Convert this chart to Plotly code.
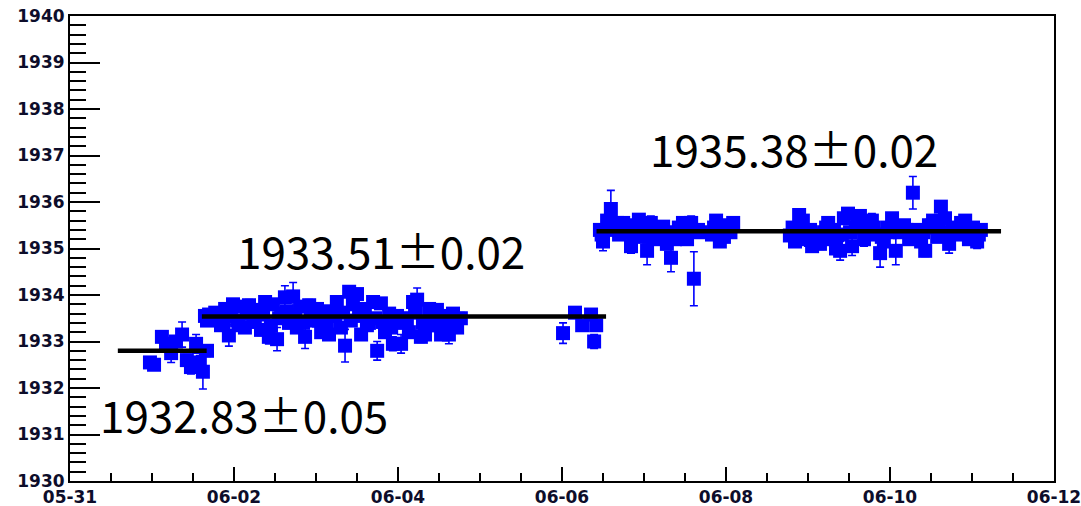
import pandas as pd
import plotly.graph_objects as go

# ---------------- data ----------------
# hours since 05-31 00:00, measured values, errors
hours = [
    # first period
    23.4, 24.6, 26.9, 28.1, 29.6, 31.0, 32.8, 34.2, 35.4, 36.9, 38.0, 38.9, 40.1,
    # second period
    39.5, 40.7, 41.9, 44.2, 45.4, 46.5, 47.7, 48.9, 50.0, 51.2, 52.4, 53.6, 54.7,
    55.9, 57.1, 58.2, 59.4, 60.6, 61.8, 62.9, 64.1, 65.3, 66.4, 67.6, 68.8, 70.0,
    71.1, 72.3, 73.5, 74.6, 75.8, 77.0, 78.1, 79.3, 80.5, 81.7, 82.8, 84.0, 85.2,
    86.3, 87.5, 88.7, 89.9, 91.0, 92.2, 93.4, 94.5, 95.7, 96.9, 98.0, 99.2, 100.4,
    101.6, 102.7, 103.9, 105.1, 106.2, 107.4, 108.6, 109.8, 110.9, 112.1, 113.3, 114.4,
    40.1, 42.5, 44.8, 47.1, 49.4, 51.8, 54.1, 56.5, 58.8, 61.2, 63.5, 65.9, 68.2,
    70.5, 72.9, 75.2, 77.6, 79.9, 82.2, 84.6, 86.9, 89.3, 91.6, 94.0, 96.3, 98.6,
    101.0, 103.3, 105.7, 108.0, 110.3, 112.7,
    144.3, 147.8, 149.9, 152.5, 153.4, 154.0,
    # third period
    155.1, 156.0, 157.2, 158.3, 159.5, 160.7, 161.9, 163.0, 164.2, 165.4, 166.5,
    167.7, 168.9, 170.0, 171.2, 172.4, 173.6, 174.7, 175.9, 177.1, 178.2, 179.4,
    180.6, 181.8, 182.6, 183.8, 187.9, 189.1, 190.2, 191.4, 192.6, 194.1,
    155.6, 157.8, 160.1, 162.5, 164.8, 167.1, 169.5, 171.8, 174.2, 176.5, 178.8,
    181.2, 184.5, 188.5, 190.8, 193.3,
    210.7, 212.2, 213.4, 214.5, 216.0, 217.2, 218.3, 219.5, 220.7, 221.9, 223.0,
    224.2, 225.4, 226.5, 227.7, 228.9, 230.0, 231.2, 232.4, 233.6, 234.7, 235.9,
    237.1, 238.2, 239.4, 240.6, 241.7, 242.9, 244.1, 245.6, 246.7, 247.9, 249.1,
    250.3, 251.4, 252.6, 253.8, 254.9, 256.1, 257.3, 258.4, 259.6, 260.8, 262.0,
    263.1, 264.3, 265.5, 266.6,
    211.5, 213.9, 216.6, 218.9, 221.3, 223.6, 225.9, 228.3, 230.6, 233.0, 235.3,
    237.6, 240.0, 242.3, 244.8, 247.3, 249.7, 252.0, 254.3, 256.7, 259.0, 261.4,
    263.7, 266.0,
]
values = [
    1932.55, 1932.50, 1933.10, 1932.95, 1932.75, 1933.00, 1933.15, 1932.60, 1932.45,
    1932.95, 1932.55, 1932.35, 1932.80,
    1933.55, 1933.58, 1933.52, 1933.35, 1933.70, 1933.13, 1933.80, 1933.45, 1933.75,
    1933.30, 1933.78, 1933.50, 1933.68, 1933.25, 1933.85, 1933.10, 1933.80, 1933.05,
    1933.60, 1933.95, 1933.40, 1933.97, 1933.30, 1933.75, 1933.10, 1933.78, 1933.45,
    1933.70, 1933.20, 1933.65, 1933.15, 1933.60, 1933.85, 1933.30, 1932.91, 1934.07,
    1933.80, 1934.02, 1933.15, 1933.70, 1933.40, 1933.85, 1932.80, 1933.82, 1933.20,
    1933.60, 1932.95, 1933.55, 1932.95, 1933.50, 1933.20, 1933.85, 1933.90, 1933.10,
    1933.15, 1933.70, 1933.35, 1933.68, 1933.15, 1933.55, 1933.15, 1933.60, 1933.30,
    1933.50,
    1933.45, 1933.62, 1933.40, 1933.55, 1933.35, 1933.60, 1933.42, 1933.58, 1933.35,
    1933.50, 1933.65, 1933.55, 1933.40, 1933.60, 1933.45, 1933.38, 1933.55, 1933.62,
    1933.45, 1933.55, 1933.35, 1933.50, 1933.42, 1933.30, 1933.40, 1933.45, 1933.62,
    1933.40, 1933.52, 1933.35, 1933.40, 1933.45,
    1933.18, 1933.62, 1933.35, 1933.58, 1933.00, 1933.35,
    1935.40, 1935.15, 1935.60, 1935.85, 1935.45, 1935.30, 1935.55, 1935.35, 1935.05,
    1935.50, 1935.62, 1935.25, 1934.95, 1935.55, 1935.20, 1935.30, 1935.47, 1935.10,
    1934.80, 1935.20, 1935.45, 1935.55, 1935.20, 1935.55, 1934.35, 1935.40, 1935.30,
    1935.60, 1935.15, 1935.25, 1935.50, 1935.55,
    1935.30, 1935.40, 1935.55, 1935.45, 1935.30, 1935.40, 1935.25, 1935.40, 1935.30,
    1935.35, 1935.30, 1935.40, 1935.35, 1935.45, 1935.40, 1935.35,
    1935.28, 1935.15, 1935.72, 1935.60, 1935.20, 1935.05, 1935.25, 1935.10, 1935.35,
    1935.55, 1935.20, 1935.00, 1934.95, 1935.65, 1935.75, 1935.05, 1935.45, 1935.70,
    1935.20, 1935.50, 1935.60, 1935.30, 1934.90, 1935.15, 1935.45, 1935.65, 1934.95,
    1935.35, 1935.50, 1935.20, 1936.20, 1935.40, 1935.15, 1934.95, 1935.50, 1935.60,
    1935.25, 1935.90, 1935.65, 1935.10, 1935.45, 1935.30, 1935.55, 1935.60, 1935.20,
    1935.45, 1935.15, 1935.40,
    1935.45, 1935.35, 1935.40, 1935.30, 1935.45, 1935.40, 1935.30, 1935.35, 1935.50,
    1935.35, 1935.45, 1935.25, 1935.35, 1935.45, 1935.40, 1935.30, 1935.35, 1935.45,
    1935.40, 1935.35, 1935.40, 1935.35, 1935.30, 1935.30,
]
errors = [
    0.10, 0.10, 0.12, 0.12, 0.20, 0.12, 0.27, 0.12, 0.15, 0.20, 0.15, 0.37, 0.12,
    0.10, 0.10, 0.10, 0.12, 0.12, 0.23, 0.12, 0.12, 0.12, 0.12, 0.12, 0.12, 0.12,
    0.12, 0.12, 0.15, 0.12, 0.25, 0.12, 0.25, 0.12, 0.30, 0.12, 0.12, 0.25, 0.12,
    0.12, 0.12, 0.12, 0.12, 0.12, 0.12, 0.12, 0.12, 0.35, 0.12, 0.12, 0.12, 0.12,
    0.12, 0.12, 0.10, 0.20, 0.10, 0.12, 0.12, 0.15, 0.12, 0.20, 0.12, 0.12, 0.12,
    0.25, 0.12, 0.10, 0.12, 0.12, 0.12, 0.12, 0.12, 0.20, 0.12, 0.12, 0.12,
    0.10, 0.10, 0.10, 0.10, 0.10, 0.10, 0.10, 0.10, 0.10, 0.10, 0.10, 0.10, 0.10,
    0.10, 0.10, 0.10, 0.10, 0.10, 0.10, 0.10, 0.10, 0.10, 0.10, 0.10, 0.10, 0.10,
    0.10, 0.10, 0.10, 0.10, 0.10, 0.10,
    0.22, 0.10, 0.10, 0.10, 0.15, 0.10,
    0.12, 0.20, 0.12, 0.40, 0.12, 0.12, 0.10, 0.10, 0.15, 0.10, 0.12, 0.12, 0.30,
    0.15, 0.12, 0.12, 0.12, 0.12, 0.30, 0.10, 0.12, 0.10, 0.12, 0.15, 0.58, 0.10,
    0.10, 0.10, 0.10, 0.10, 0.10, 0.10,
    0.10, 0.10, 0.10, 0.10, 0.10, 0.10, 0.10, 0.10, 0.10, 0.10, 0.10, 0.10, 0.10,
    0.10, 0.10, 0.10,
    0.10, 0.10, 0.12, 0.12, 0.15, 0.10, 0.12, 0.12, 0.10, 0.12, 0.10, 0.10, 0.20,
    0.12, 0.12, 0.20, 0.10, 0.10, 0.15, 0.10, 0.15, 0.10, 0.30, 0.10, 0.12, 0.12,
    0.30, 0.10, 0.10, 0.12, 0.35, 0.10, 0.12, 0.12, 0.12, 0.10, 0.10, 0.12, 0.12,
    0.20, 0.10, 0.10, 0.12, 0.12, 0.10, 0.12, 0.15, 0.10,
    0.10, 0.10, 0.10, 0.10, 0.10, 0.10, 0.10, 0.10, 0.10, 0.10, 0.10, 0.10, 0.10,
    0.10, 0.10, 0.10, 0.10, 0.10, 0.10, 0.10, 0.10, 0.10, 0.10, 0.10,
]

# fitted constant levels: start / end (hours since 05-31 00:00), level, label
fit_start = [14.0, 38.6, 154.1]
fit_end = [40.0, 156.9, 272.5]
fit_level = [1932.80, 1933.54, 1935.37]
fit_labels = ["1932.83\u00b10.05", "1933.51\u00b10.02", "1935.38\u00b10.02"]

origin = pd.Timestamp("2012-05-31 00:00")
times = [origin + pd.Timedelta(hours=h) for h in hours]

fig = go.Figure()
fig.add_trace(go.Scatter(
    x=times, y=values, mode="markers",
    marker=dict(symbol="square", size=14, color="#0000ff", line=dict(width=0)),
    error_y=dict(type="data", array=errors, color="#0000ff", thickness=1.6, width=4),
    showlegend=False, hoverinfo="skip",
))
for s, e, lv in zip(fit_start, fit_end, fit_level):
    fig.add_trace(go.Scatter(
        x=[origin + pd.Timedelta(hours=s), origin + pd.Timedelta(hours=e)],
        y=[lv, lv], mode="lines", line=dict(color="black", width=4.5),
        showlegend=False, hoverinfo="skip",
    ))

label_pos = [(0.177, 0.144), (0.316, 0.497), (0.736, 0.716)]
for txt, (px, py) in zip(fit_labels, label_pos):
    fig.add_annotation(
        x=px, y=py, xref="paper", yref="paper", text=txt, showarrow=False,
        font=dict(family="Noto Sans CJK JP", size=44, color="black"),
        xanchor="center", yanchor="middle",
    )

tickfont = dict(family="DejaVu Sans", size=17, color="#0d0d2a", weight="bold")
fig.update_layout(
    width=1081, height=506,
    margin=dict(l=70, r=27, t=16, b=25, autoexpand=False),
    paper_bgcolor="white", plot_bgcolor="white",
    xaxis=dict(
        type="date", range=[origin, origin + pd.Timedelta(days=12)],
        tick0=origin, dtick=2 * 86400000, tickformat="%m-%d",
        ticks="inside", ticklen=14, tickwidth=1.5, tickcolor="black",
        minor=dict(dtick=12 * 3600000, ticks="inside", ticklen=8, tickwidth=1.5, tickcolor="black"),
        showline=True, linecolor="black", linewidth=2, mirror=True,
        showgrid=False, zeroline=False, tickfont=tickfont, automargin=False,
        ticklabeloverflow="allow",
    ),
    yaxis=dict(
        range=[1930, 1940], dtick=1, tick0=1930,
        ticks="inside", ticklen=30, tickwidth=1.5, tickcolor="black",
        minor=dict(dtick=0.2, ticks="inside", ticklen=16, tickwidth=1.5, tickcolor="black"),
        showline=True, linecolor="black", linewidth=2, mirror=True,
        showgrid=False, zeroline=False, tickfont=tickfont, automargin=False,
        ticklabeloverflow="allow",
    ),
)

fig.write_html(
    "out.html",
    config={"displayModeBar": False},
    post_script="document.body.style.margin='0';document.body.style.overflow='hidden';",
)
